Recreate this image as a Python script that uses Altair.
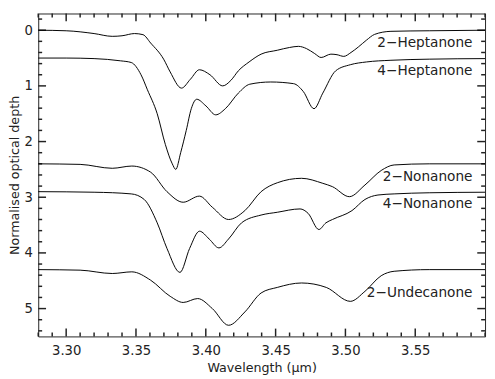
import altair as alt
import pandas as pd

# ---- data ----
hep2_x = [3.280, 3.300, 3.320, 3.333, 3.340, 3.349, 3.355, 3.3605, 3.3698, 3.3745, 3.3826, 3.3890,
          3.3954, 3.4030, 3.4121, 3.4180, 3.4233, 3.4310, 3.4396, 3.4512, 3.4600, 3.4663, 3.4721,
          3.4780, 3.4826, 3.4896, 3.4940, 3.4988, 3.5040, 3.5093, 3.5150, 3.5209, 3.5326, 3.5600, 3.6000]
hep2_y = [0.00, 0.01, 0.06, 0.11, 0.10, 0.06, 0.08, 0.23, 0.52, 0.75, 1.04, 0.88,
          0.71, 0.80, 1.00, 0.90, 0.73, 0.57, 0.43, 0.36, 0.31, 0.29, 0.33,
          0.42, 0.49, 0.43, 0.44, 0.47, 0.40, 0.30, 0.18, 0.075, 0.02, 0.01, 0.00]

hep4_x = [3.280, 3.300, 3.320, 3.339, 3.3466, 3.3536, 3.3582, 3.3652, 3.3710, 3.3760, 3.3785, 3.3820,
          3.3860, 3.3896, 3.3935, 3.4001, 3.4071, 3.4140, 3.4233, 3.4315, 3.4465, 3.4629, 3.4698,
          3.4775, 3.4838, 3.4930, 3.5035, 3.5151, 3.5326, 3.5600, 3.6000]
hep4_y = [0.50, 0.50, 0.51, 0.55, 0.58, 0.80, 1.07, 1.50, 2.05, 2.40, 2.50, 2.20,
          1.80, 1.41, 1.24, 1.36, 1.52, 1.41, 1.13, 0.97, 0.93, 0.96, 1.10,
          1.41, 1.13, 0.73, 0.62, 0.57, 0.54, 0.52, 0.51]

non2_x = [3.280, 3.310, 3.333, 3.347, 3.3605, 3.3722, 3.3838, 3.3954, 3.4047, 3.4163, 3.4280, 3.4396,
          3.4512, 3.4686, 3.4838, 3.4907, 3.5028, 3.5140, 3.5256, 3.5349, 3.5600, 3.6000]
non2_y = [2.40, 2.41, 2.48, 2.44, 2.55, 2.90, 3.09, 2.98, 3.18, 3.40, 3.24, 2.90,
          2.74, 2.66, 2.75, 2.81, 2.99, 2.78, 2.52, 2.42, 2.40, 2.40]

non4_x = [3.280, 3.320, 3.3466, 3.3559, 3.3652, 3.3722, 3.3815, 3.3884, 3.3955, 3.4024, 3.4094, 3.4163,
          3.4256, 3.4396, 3.4512, 3.4675, 3.4733, 3.4810, 3.4860, 3.4907, 3.5047, 3.5140, 3.5233,
          3.5349, 3.5600, 3.6000]
non4_y = [2.90, 2.91, 2.94, 3.04, 3.46, 3.92, 4.35, 3.92, 3.61, 3.75, 3.91, 3.75,
          3.46, 3.32, 3.27, 3.21, 3.29, 3.58, 3.46, 3.40, 3.24, 3.04, 2.96,
          2.94, 2.92, 2.91]

und2_x = [3.280, 3.310, 3.333, 3.347, 3.3605, 3.3745, 3.3838, 3.3942, 3.4047, 3.4163, 3.4280, 3.4396,
          3.4512, 3.4686, 3.4863, 3.5035, 3.5140, 3.5256, 3.5349, 3.5600, 3.6000]
und2_y = [4.30, 4.31, 4.37, 4.34, 4.49, 4.78, 4.89, 4.82, 5.00, 5.30, 5.06, 4.72,
          4.62, 4.54, 4.62, 4.87, 4.69, 4.41, 4.33, 4.30, 4.30]

label_names = ["2\u2212Heptanone", "4\u2212Heptanone", "2\u2212Nonanone", "4\u2212Nonanone", "2\u2212Undecanone"]
label_x = [3.591, 3.591, 3.591, 3.591, 3.591]
label_y = [0.23, 0.73, 2.64, 3.12, 4.73]

x_major = [3.30, 3.35, 3.40, 3.45, 3.50, 3.55]
x_minor = [round(3.28 + 0.01 * i, 2) for i in range(33)]
x_minor = [v for v in x_minor if all(abs(v - m) > 1e-6 for m in x_major)]
y_major = [0, 1, 2, 3, 4, 5]
y_minor = [round(-0.2 + 0.2 * i, 1) for i in range(29)]
y_minor = [v for v in y_minor if all(abs(v - m) > 1e-6 for m in y_major)]

W, H = 458, 331
FONT = "DejaVu Sans"
INK = "#222222"
TICK = "#222222"

frames = []
for name, xs, ys in [("2-Heptanone", hep2_x, hep2_y), ("4-Heptanone", hep4_x, hep4_y),
                     ("2-Nonanone", non2_x, non2_y), ("4-Nonanone", non4_x, non4_y),
                     ("2-Undecanone", und2_x, und2_y)]:
    frames.append(pd.DataFrame({"wl": xs, "tau": ys, "series": name}))
spec = pd.concat(frames, ignore_index=True)

xscale = alt.Scale(domain=[3.28, 3.60], nice=False, zero=False)
yscale = alt.Scale(domain=[-0.3, 5.5], reverse=True, nice=False, zero=False)

lines = alt.Chart(spec).mark_line(color="black", strokeWidth=1, interpolate="monotone").encode(
    x=alt.X("wl:Q", scale=xscale,
            axis=alt.Axis(title="Wavelength (\u03bcm)", values=x_major, format=".2f", grid=False,
                          ticks=False, tickSize=0, domain=False, labelPadding=8, titlePadding=4,
                          labelFont=FONT, titleFont=FONT, labelFontSize=13.5, titleFontSize=13,
                          titleFontWeight="normal", labelColor=INK, titleColor=INK)),
    y=alt.Y("tau:Q", scale=yscale,
            axis=alt.Axis(title="Normalised optical depth", values=y_major, format="d", grid=False,
                          ticks=False, tickSize=0, domain=False, labelPadding=6, titlePadding=3,
                          labelFont=FONT, titleFont=FONT, labelFontSize=13.5, titleFontSize=13,
                          titleFontWeight="normal", labelColor=INK, titleColor=INK)),
    detail="series:N",
)

labels_df = pd.DataFrame({"x": label_x, "y": label_y, "t": label_names})
labels = alt.Chart(labels_df).mark_text(align="right", baseline="middle", font=FONT, fontSize=14,
                                        color=INK).encode(
    x=alt.X("x:Q", scale=xscale), y=alt.Y("y:Q", scale=yscale), text="t:N")

xmaj_df = pd.DataFrame({"v": x_major})
xmin_df = pd.DataFrame({"v": x_minor})
ymaj_df = pd.DataFrame({"v": y_major})
ymin_df = pd.DataFrame({"v": y_minor})

tick_layers = []
for df, ln in [(xmaj_df, 8), (xmin_df, 4)]:
    tick_layers.append(alt.Chart(df).mark_rule(color=TICK, strokeWidth=1.5).encode(
        x=alt.X("v:Q", scale=xscale), y=alt.value(H), y2=alt.value(H - ln)))
    tick_layers.append(alt.Chart(df).mark_rule(color=TICK, strokeWidth=1.5).encode(
        x=alt.X("v:Q", scale=xscale), y=alt.value(0), y2=alt.value(ln)))
for df, ln in [(ymaj_df, 8), (ymin_df, 4)]:
    tick_layers.append(alt.Chart(df).mark_rule(color=TICK, strokeWidth=1.5).encode(
        y=alt.Y("v:Q", scale=yscale), x=alt.value(0), x2=alt.value(ln)))
    tick_layers.append(alt.Chart(df).mark_rule(color=TICK, strokeWidth=1.5).encode(
        y=alt.Y("v:Q", scale=yscale), x=alt.value(W), x2=alt.value(W - ln)))

chart = alt.layer(
    *tick_layers, lines, labels
).properties(
    width=W, height=H, padding={"left": 0, "top": 0, "right": 0, "bottom": 0}
).configure_view(stroke=TICK, strokeWidth=1)

chart.save("out.html", embed_options={"renderer": "svg", "actions": False})
